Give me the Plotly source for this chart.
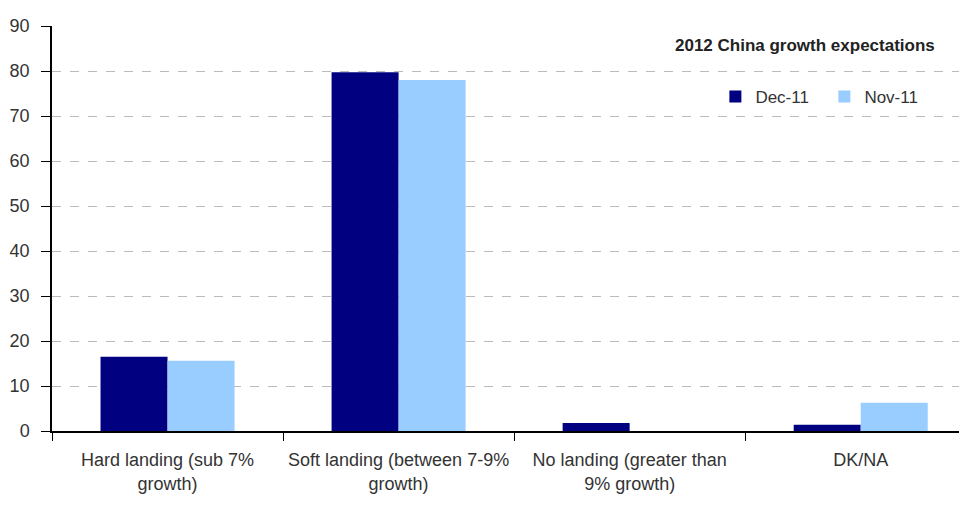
import plotly.graph_objects as go

categories = ["Hard landing (sub 7%<br>growth)", "Soft landing (between 7-9%<br>growth)",
              "No landing (greater than<br>9% growth)", "DK/NA"]
dec11 = [16.5, 79.7, 1.8, 1.4]
nov11 = [15.6, 78.0, 0.0, 6.3]
yticks = [0, 10, 20, 30, 40, 50, 60, 70, 80, 90]

fig = go.Figure()
fig.add_trace(go.Bar(x=categories, y=dec11, name="Dec-11", marker=dict(color="#000080", line=dict(width=0))))
fig.add_trace(go.Bar(x=categories, y=nov11, name="Nov-11", marker=dict(color="#99CCFF", line=dict(width=0))))

font = "Liberation Sans, Arial"
fig.update_layout(
    width=959, height=497,
    margin=dict(l=44, r=0, t=18, b=74),
    paper_bgcolor="white", plot_bgcolor="white",
    barmode="group", bargap=0.42, bargroupgap=0,
    font=dict(family=font, size=18, color="#333333"),
    showlegend=True,
    legend=dict(orientation="h", x=0.725, y=0.825, xanchor="left", yanchor="middle",
                bgcolor="rgba(0,0,0,0)", font=dict(size=17, color="#333333"),
                itemwidth=30, entrywidth=64, entrywidthmode="pixels", tracegroupgap=0),
    annotations=[dict(text="<b>2012 China growth expectations</b>", x=0.823, y=0.953,
                      xref="paper", yref="paper", xanchor="center", yanchor="middle",
                      showarrow=False,
                      font=dict(family=font, size=17, color="#222222"))],
)
fig.update_xaxes(type="category", tickson="boundaries", ticks="outside", ticklen=8,
                 tickcolor="#000000", showline=True, linecolor="#000000", linewidth=1.5,
                 showgrid=False, range=[-0.5, 3.46], ticklabelstandoff=12,
                 tickfont=dict(size=18, color="#333333"))
fig.update_yaxes(range=[0, 90], tickvals=yticks, ticks="outside", ticklen=9,
                 tickcolor="#000000", showline=True, linecolor="#000000", linewidth=1.5,
                 showgrid=True, gridcolor="#BBBBBB", griddash="dash", gridwidth=1,
                 zeroline=False, ticklabelstandoff=8,
                 tickfont=dict(size=18, color="#333333"))

fig.write_html("out.html")
